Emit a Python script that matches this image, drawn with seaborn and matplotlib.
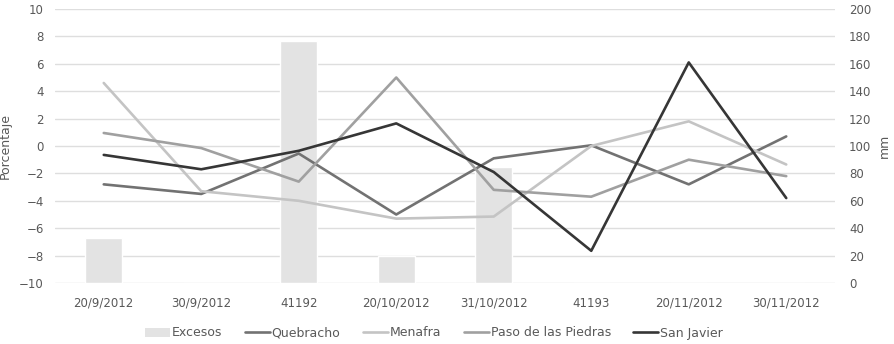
import matplotlib
matplotlib.use("Agg")
import matplotlib.pyplot as plt
import seaborn as sns
import pandas as pd
import numpy as np
from matplotlib.patches import Patch
from matplotlib.lines import Line2D

# Fechas de muestreo (tal como aparecen en la hoja de cálculo)
fechas = ["20/9/2012", "30/9/2012", "41192", "20/10/2012",
          "31/10/2012", "41193", "20/11/2012", "30/11/2012"]

# Excesos hídricos (mm, eje secundario)
excesos = [33, 0, 177, 20, 85, 0, 0, 0]

# Variación porcentual por sitio
quebracho = [-2.8, -3.5, -0.55, -5.0, -0.9, 0.05, -2.8, 0.7]
menafra = [4.6, -3.3, -4.0, -5.3, -5.15, 0.0, 1.8, -1.35]
paso_piedras = [0.95, -0.15, -2.6, 5.0, -3.2, -3.7, -1.0, -2.2]
san_javier = [-0.65, -1.7, -0.35, 1.65, -1.9, -7.65, 6.1, -3.8]

series = {
    "Quebracho": quebracho,
    "Menafra": menafra,
    "Paso de las Piedras": paso_piedras,
    "San Javier": san_javier,
}
colores = {
    "Quebracho": "#727272",
    "Menafra": "#c4c4c4",
    "Paso de las Piedras": "#a0a0a0",
    "San Javier": "#363636",
}
color_barra = "#e3e3e3"
color_texto = "#595959"

sns.set_theme(style="white")
plt.rcParams["font.family"] = ["DejaVu Sans"]

fig = plt.figure(figsize=(8.95, 3.44), dpi=100)
ax = fig.add_axes([55 / 895, 1 - 283 / 344, 780 / 895, 274 / 344])
ax2 = ax.twinx()

# Barras en el eje de milímetros
df_bar = pd.DataFrame({"fecha": fechas, "mm": excesos})
sns.barplot(data=df_bar, x="fecha", y="mm", order=fechas, color=color_barra,
            saturation=1, width=0.38, ax=ax2, zorder=2)
ax2.set_ylim(0, 200)
ax2.set_yticks(np.arange(0, 201, 20))
ax2.grid(axis="y", color="#dedede", linewidth=1.0, zorder=0)
ax2.set_axisbelow(True)

# Líneas en el eje de porcentaje, por encima de las barras
ax.set_zorder(ax2.get_zorder() + 1)
ax.patch.set_visible(False)
df_lin = pd.DataFrame(
    [(i, nombre, v) for nombre, vals in series.items() for i, v in enumerate(vals)],
    columns=["pos", "sitio", "valor"],
)
sns.lineplot(data=df_lin, x="pos", y="valor", hue="sitio", palette=colores,
             hue_order=list(series.keys()), linewidth=1.9, ax=ax, legend=False)
ax.set_ylim(-10, 10)
ax.set_yticks(np.arange(-10, 11, 2))
ax.set_xlim(-0.5, len(fechas) - 0.5)
ax.set_xticks(range(len(fechas)))
ax.set_xticklabels(fechas)
ax.grid(False)

for a in (ax, ax2):
    for s in a.spines.values():
        s.set_visible(False)
    a.tick_params(axis="both", length=0, colors=color_texto, labelsize=8.5)

ax.tick_params(axis="x", pad=10)
ax.tick_params(axis="y", pad=8)
ax2.tick_params(axis="y", pad=10)
ax2.set_xlabel("")
ax.set_xlabel("")
ax.set_ylabel("Porcentaje", color=color_texto, fontsize=9, labelpad=5)
ax2.set_ylabel("mm", color=color_texto, fontsize=9, labelpad=5)

handles = [Patch(facecolor=color_barra, edgecolor="none", label="Excesos")]
for nombre in series:
    handles.append(Line2D([0], [0], color=colores[nombre], linewidth=1.9, label=nombre))
fig.legend(handles=handles, loc="center", bbox_to_anchor=(0.485, 1 - 333 / 344),
           ncol=5, frameon=False, fontsize=9, handlelength=2.0, handletextpad=0.15,
           columnspacing=1.8, labelcolor=color_texto)

fig.savefig("out.png", dpi=100)
